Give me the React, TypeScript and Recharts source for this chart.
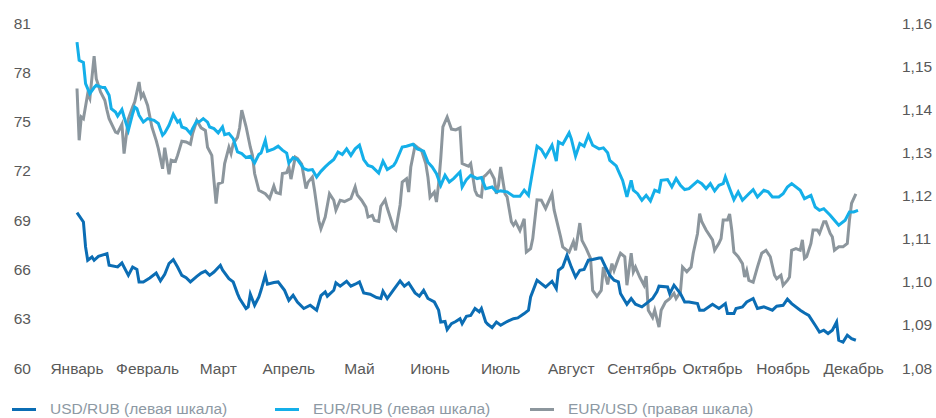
import { LineChart, Line, XAxis, YAxis, Legend } from 'recharts'

document.body.style.margin = '0'

const months = ['Январь', 'Февраль', 'Март', 'Апрель', 'Май', 'Июнь', 'Июль', 'Август', 'Сентябрь', 'Октябрь', 'Ноябрь', 'Декабрь']
const monthTicks = [0, 33, 66, 99, 132, 165, 198, 231, 264, 297, 330, 363]
const leftTicks = [60, 63, 66, 69, 72, 75, 78, 81]
const rightTicks = [1.08, 1.09, 1.1, 1.11, 1.12, 1.13, 1.14, 1.15, 1.16]

// USD/RUB, левая шкала
const usdDays = [
  0, 3, 4, 5, 7, 8, 10, 14, 15, 19, 21, 24, 26, 28, 29, 31, 34, 37, 39, 41,
  43, 45, 47, 49, 51, 53, 56, 58, 60, 62, 64, 67, 68, 71, 73, 75, 76, 79, 80, 81,
  83, 85, 86, 88, 89, 92, 94, 96, 97, 99, 101, 103, 106, 109, 112, 114, 116, 117, 120, 121,
  123, 126, 128, 130, 132, 134, 137, 140, 142, 143, 145, 148, 151, 153, 155, 158, 160, 162, 164, 167,
  169, 170, 172, 173, 175, 177, 179, 180, 182, 184, 186, 188, 189, 191, 192, 194, 196, 198, 201, 204,
  206, 209, 211, 212, 215, 217, 219, 222, 224, 225, 227, 229, 231, 233, 235, 237, 239, 241, 244, 245,
  247, 249, 251, 253, 254, 257, 259, 261, 264, 266, 269, 271, 272, 276, 277, 279, 282, 284, 286, 290,
  291, 293, 297, 300, 301, 303, 304, 307, 308, 311, 313, 316, 318, 321, 325, 327, 330, 332, 334, 338,
  340, 342, 345, 347, 349, 351, 353, 355, 356, 358, 360, 362, 364,
]
const usdRub = [
  69.46, 68.89, 67.37, 66.56, 66.76, 66.56, 66.8, 66.96, 66.25, 66.15, 66.39, 65.64, 66.15, 66.0, 65.24, 65.24, 65.48, 65.78, 65.3, 65.7,
  66.36, 66.6, 66.15, 65.64, 65.5, 65.24, 65.58, 65.78, 65.9, 65.64, 65.84, 66.25, 65.97, 65.44, 65.24, 64.53, 64.23, 63.62, 63.72, 64.49,
  63.82, 64.33, 64.73, 65.64, 65.1, 65.2, 65.24, 64.9, 64.73, 64.12, 64.43, 64.02, 63.62, 63.82, 63.52, 64.4, 64.63, 64.37, 64.73, 65.18,
  64.98, 65.28, 64.98, 65.1, 65.24, 64.57, 64.49, 64.29, 64.23, 64.67, 64.23, 64.77, 65.3, 64.98, 65.18, 64.57, 64.37, 64.73, 64.23, 64.02,
  63.52, 62.8, 62.83, 62.34, 62.7, 62.83, 63.0, 62.7, 63.15, 63.2, 63.62, 63.42, 63.62, 62.8, 62.66, 62.46, 62.8, 62.6, 62.83, 63.0,
  63.05, 63.31, 63.52, 64.33, 65.34, 65.14, 64.93, 65.28, 64.83, 65.95, 66.15, 66.86, 66.15, 65.54, 65.95, 66.0, 66.56, 66.6, 66.7, 66.7,
  66.15, 65.64, 65.34, 65.24, 64.53, 63.88, 64.23, 63.88, 63.72, 63.92, 64.23, 64.63, 64.98, 64.93, 64.53, 65.04, 64.53, 64.02, 64.02, 63.92,
  63.52, 63.52, 63.88, 63.62, 63.72, 63.92, 63.31, 63.31, 63.62, 63.72, 64.02, 64.23, 63.62, 63.72, 63.52, 63.76, 63.82, 64.19, 63.92, 63.52,
  63.35, 63.2, 62.6, 62.19, 62.3, 62.1, 62.3, 62.8, 61.69, 61.58, 62.0, 61.79, 61.69,
]

// EUR/RUB, левая шкала
const eurDays = [
  0, 1, 3, 4, 6, 8, 9, 12, 13, 15, 16, 18, 19, 21, 22, 24, 26, 27, 28, 29,
  31, 33, 36, 38, 40, 41, 43, 45, 47, 48, 49, 51, 53, 54, 56, 57, 59, 61, 62, 64,
  66, 68, 69, 71, 73, 75, 77, 79, 81, 83, 85, 86, 88, 89, 92, 94, 96, 98, 99, 101,
  103, 106, 108, 110, 112, 114, 116, 118, 120, 122, 124, 126, 128, 130, 132, 134, 136, 138, 141, 143,
  145, 148, 149, 152, 154, 157, 159, 162, 164, 166, 168, 170, 172, 174, 176, 179, 180, 182, 184, 187,
  189, 191, 194, 196, 198, 201, 204, 207, 209, 211, 213, 215, 217, 219, 222, 224, 225, 227, 230, 231,
  233, 235, 237, 239, 241, 244, 246, 248, 249, 252, 253, 255, 257, 259, 260, 262, 264, 266, 268, 270,
  272, 273, 276, 278, 280, 282, 284, 286, 290, 292, 294, 296, 298, 300, 302, 303, 305, 307, 309, 311,
  314, 316, 318, 321, 323, 325, 328, 330, 332, 334, 338, 340, 343, 345, 347, 349, 352, 354, 356, 359,
  361, 363, 365,
]
const eurRub = [
  79.84, 78.73, 78.6, 77.31, 76.7, 77.07, 77.21, 77.07, 77.07, 76.6, 75.79, 75.58, 75.33, 75.73, 75.28, 74.47, 75.48, 75.89, 75.79, 75.38,
  74.97, 75.18, 75.08, 74.88, 74.17, 74.31, 74.77, 75.44, 74.97, 75.08, 74.67, 74.57, 74.27, 74.57, 75.04, 74.97, 75.18, 74.97, 74.67, 74.57,
  74.31, 74.67, 74.2, 74.27, 73.96, 73.15, 73.05, 72.81, 72.89, 72.48, 73.0, 73.08, 73.86, 73.2, 73.34, 73.5, 73.26, 73.08, 72.48, 72.81,
  72.69, 72.14, 72.04, 72.08, 71.63, 71.97, 72.24, 72.48, 72.69, 73.15, 73.0, 73.34, 72.94, 73.34, 73.56, 72.69, 72.33, 72.24, 71.87, 72.59,
  72.08, 72.33, 72.53, 73.45, 73.5, 73.62, 73.34, 73.2, 72.53, 72.24, 71.83, 71.12, 71.73, 71.32, 71.53, 71.93, 71.02, 71.47, 71.73, 71.53,
  71.59, 70.92, 71.02, 70.72, 70.78, 70.72, 70.45, 70.45, 70.82, 70.51, 72.04, 73.5, 73.3, 72.86, 73.56, 72.59, 73.76, 73.62, 74.31, 73.96,
  72.89, 73.66, 73.5, 74.17, 73.56, 73.34, 73.4, 73.1, 72.64, 72.3, 72.0, 71.42, 70.41, 71.42, 70.82, 70.61, 70.21, 70.51, 70.17, 70.82,
  70.72, 71.42, 71.47, 71.02, 71.53, 71.12, 70.86, 70.92, 71.38, 71.22, 70.92, 71.22, 70.78, 71.12, 71.22, 71.63, 70.92, 70.25, 70.72, 70.21,
  70.61, 70.86, 70.41, 70.82, 70.72, 70.41, 70.41, 70.61, 71.02, 71.22, 70.82, 70.31, 70.51, 69.8, 69.6, 69.7, 69.3, 68.99, 68.69, 68.99,
  69.5, 69.5, 69.6,
]

// EUR/USD, правая шкала
const eurUsdDays = [
  0, 1, 2, 3, 5, 6, 8, 9, 11, 13, 14, 15, 18, 19, 21, 22, 24, 26, 27, 29,
  30, 31, 33, 35, 37, 38, 40, 41, 43, 44, 46, 47, 49, 51, 53, 54, 56, 58, 60, 61,
  63, 64, 65, 66, 68, 69, 71, 72, 73, 75, 76, 77, 79, 81, 82, 83, 85, 88, 90, 92,
  93, 95, 96, 98, 99, 100, 102, 103, 105, 107, 108, 110, 111, 113, 114, 116, 118, 120, 121, 123,
  125, 128, 130, 131, 133, 135, 136, 138, 139, 141, 142, 144, 145, 148, 149, 151, 152, 154, 155, 156,
  158, 159, 161, 163, 164, 165, 167, 168, 169, 170, 171, 173, 175, 177, 179, 180, 182, 183, 184, 186,
  187, 189, 190, 191, 193, 195, 196, 197, 198, 200, 201, 203, 204, 205, 207, 209, 210, 212, 213, 215,
  217, 219, 222, 223, 226, 227, 230, 232, 233, 235, 236, 238, 240, 241, 243, 245, 246, 248, 250, 251,
  253, 254, 256, 257, 259, 260, 261, 263, 265, 266, 267, 269, 270, 272, 273, 275, 277, 279, 280, 282,
  283, 285, 287, 288, 290, 291, 292, 294, 297, 298, 300, 301, 302, 304, 305, 306, 307, 309, 311, 312,
  313, 314, 316, 318, 320, 322, 324, 326, 327, 329, 330, 332, 333, 334, 336, 338, 339, 340, 341, 343,
  344, 346, 347, 349, 350, 352, 353, 354, 356, 358, 360, 361, 362, 364,
]
const eurUsd = [
  1.1448, 1.1328, 1.1382, 1.1378, 1.1436, 1.1425, 1.1523, 1.1471, 1.144, 1.1421, 1.1398, 1.1378, 1.1347, 1.1345, 1.1365, 1.1297, 1.1378, 1.1405, 1.1417, 1.1463,
  1.1428, 1.1436, 1.1409, 1.1359, 1.1328, 1.1309, 1.1262, 1.1311, 1.1249, 1.1282, 1.1279, 1.1293, 1.1326, 1.1324, 1.1319, 1.1343, 1.1374, 1.1357, 1.1351, 1.1312,
  1.1293, 1.1235, 1.1181, 1.1227, 1.1231, 1.1274, 1.1312, 1.1297, 1.132, 1.1335, 1.1357, 1.1398, 1.136, 1.1312, 1.1293, 1.1251, 1.1212, 1.1204, 1.1193, 1.1222,
  1.1207, 1.1204, 1.1251, 1.1253, 1.1266, 1.1238, 1.1289, 1.1286, 1.1273, 1.1216, 1.1231, 1.1243, 1.1212, 1.1142, 1.1123, 1.115, 1.1204, 1.1189, 1.1166, 1.1189,
  1.1186, 1.1193, 1.122, 1.1201, 1.1189, 1.1173, 1.115, 1.1154, 1.1142, 1.114, 1.1175, 1.119, 1.1171, 1.1125, 1.112, 1.1178, 1.1231, 1.1239, 1.1208, 1.1266,
  1.1316, 1.1312, 1.1305, 1.1274, 1.1243, 1.1196, 1.1208, 1.1185, 1.1227, 1.1286, 1.1359, 1.1382, 1.1354, 1.1352, 1.1357, 1.1274, 1.127, 1.1268, 1.1274, 1.1212,
  1.1201, 1.1197, 1.1243, 1.1247, 1.1258, 1.1239, 1.1204, 1.1224, 1.1266, 1.1204, 1.1197, 1.1139, 1.1131, 1.1139, 1.1119, 1.1146, 1.1069, 1.1077, 1.11, 1.119,
  1.1189, 1.117, 1.1204, 1.1166, 1.1104, 1.1081, 1.1069, 1.1093, 1.1073, 1.1136, 1.1096, 1.1077, 1.1054, 1.098, 1.0966, 1.098, 1.1034, 1.0994, 1.1042, 1.1026,
  1.1054, 1.1066, 1.1058, 1.0992, 1.1066, 1.1023, 1.1034, 1.1011, 1.0992, 1.1013, 1.0934, 1.0917, 1.0934, 1.0895, 1.0934, 1.0953, 1.0961, 1.0973, 1.0961, 1.0976,
  1.1034, 1.1023, 1.1034, 1.1066, 1.1112, 1.1158, 1.1139, 1.112, 1.1097, 1.1073, 1.1089, 1.11, 1.1143, 1.1143, 1.1157, 1.112, 1.1069, 1.1058, 1.1042, 1.1011,
  1.1026, 1.1003, 1.0999, 1.1034, 1.1066, 1.1073, 1.1058, 1.1015, 1.1007, 1.1015, 1.0992, 1.1003, 1.1011, 1.1073, 1.1077, 1.1073, 1.1097, 1.1054, 1.1058, 1.1089,
  1.112, 1.112, 1.1112, 1.1139, 1.1139, 1.1112, 1.1104, 1.1073, 1.1081, 1.1081, 1.1089, 1.1143, 1.1182, 1.1204,
]

const toPoints = (days: number[], values: number[]) =>
  days.slice(0, Math.min(days.length, values.length)).map((day, i) => ({ day, value: values[i] }))

const usdData = toPoints(usdDays, usdRub)
const eurData = toPoints(eurDays, eurRub)
const eurUsdData = toPoints(eurUsdDays, eurUsd)

const FONT = '"Liberation Sans", Arial, sans-serif'
const TICK_COLOR = '#595959'

const series = [
  { name: 'USD/RUB (левая шкала)', color: '#0b6db4', left: 12 },
  { name: 'EUR/RUB (левая шкала)', color: '#14afe9', left: 275 },
  { name: 'EUR/USD (правая шкала)', color: '#8c969d', left: 530 },
]

function MonthTick({ x, y, payload }: any) {
  const idx = monthTicks.indexOf(payload.value)
  return (
    <text x={x} y={y} dy={5.5} textAnchor="middle" fill={TICK_COLOR} fontSize={15.5} fontFamily={FONT}>
      {months[idx]}
    </text>
  )
}

function LegendContent() {
  return (
    <div style={{ position: 'relative', width: 936, height: 20, fontFamily: FONT, fontSize: 15.5 }}>
      {series.map((s) => (
        <div key={s.name} style={{ position: 'absolute', left: s.left, top: 0, height: 20, display: 'flex', alignItems: 'center' }}>
          <span style={{ display: 'inline-block', width: 24, height: 3, background: s.color, marginRight: 14 }} />
          <span style={{ color: '#8d99a4' }}>{s.name}</span>
        </div>
      ))}
    </div>
  )
}

export default function App() {
  return (
    <LineChart width={936} height={418} margin={{ top: 23, right: 0, bottom: 0, left: 0 }}>
      <XAxis
        dataKey="day"
        type="number"
        domain={[0, 365]}
        ticks={monthTicks}
        tick={<MonthTick />}
        axisLine={false}
        tickLine={false}
        tickSize={0}
        tickMargin={0}
        height={50}
        interval={0}
        allowDuplicatedCategory={false}
      />
      <YAxis
        yAxisId="left"
        orientation="left"
        domain={[60, 81]}
        ticks={leftTicks}
        width={77}
        axisLine={false}
        tickLine={false}
        tickMargin={40}
        interval={0}
        tick={{ fill: TICK_COLOR, fontSize: 15.5, fontFamily: FONT }}
      />
      <YAxis
        yAxisId="right"
        orientation="right"
        domain={[1.08, 1.16]}
        ticks={rightTicks}
        width={78}
        axisLine={false}
        tickLine={false}
        tickMargin={38}
        interval={0}
        tickFormatter={(v: number) => v.toFixed(2).replace('.', ',')}
        tick={{ fill: TICK_COLOR, fontSize: 15.5, fontFamily: FONT, textAnchor: 'start' }}
      />
      <Legend
        verticalAlign="middle"
        align="center"
        layout="horizontal"
        content={<LegendContent />}
        wrapperStyle={{ top: 399, left: 0, width: 936 }}
      />
      <Line
        yAxisId="right"
        data={eurUsdData}
        dataKey="value"
        name={series[2].name}
        stroke={series[2].color}
        strokeWidth={3}
        dot={false}
        activeDot={false}
        isAnimationActive={false}
      />
      <Line
        yAxisId="left"
        data={eurData}
        dataKey="value"
        name={series[1].name}
        stroke={series[1].color}
        strokeWidth={3}
        dot={false}
        activeDot={false}
        isAnimationActive={false}
      />
      <Line
        yAxisId="left"
        data={usdData}
        dataKey="value"
        name={series[0].name}
        stroke={series[0].color}
        strokeWidth={3}
        dot={false}
        activeDot={false}
        isAnimationActive={false}
      />
    </LineChart>
  )
}
